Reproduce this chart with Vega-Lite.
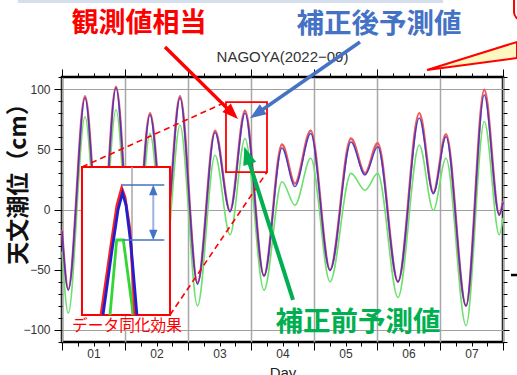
{
  "$schema": "https://vega.github.io/schema/vega-lite/v6.json",
  "width": 441,
  "height": 265,
  "autosize": {"type": "none"},
  "padding": {"left": 62, "top": 77, "right": 14, "bottom": 33},
  "background": "white",
  "config": {
    "view": {"stroke": "#000", "strokeWidth": 2.5},
    "axis": {"domain": false, "labelFont": "Liberation Sans", "titleFont": "Liberation Sans", "tickColor": "#000", "tickWidth": 1}
  },
  "datasets": {
    "tide": [
      {"day": 0, "obs": -17, "cor": -18, "pre": -35},
      {"day": 0.1, "obs": -66, "cor": -67, "pre": -86},
      {"day": 0.365, "obs": 94, "cor": 92.5, "pre": 77},
      {"day": 0.611, "obs": -44, "cor": -45, "pre": -62},
      {"day": 0.857, "obs": 102, "cor": 100.8, "pre": 82.8},
      {"day": 1.127, "obs": -67, "cor": -68, "pre": -86},
      {"day": 1.397, "obs": 80, "cor": 78.5, "pre": 63},
      {"day": 1.635, "obs": -24, "cor": -25, "pre": -42},
      {"day": 1.873, "obs": 94, "cor": 92.5, "pre": 70},
      {"day": 2.151, "obs": -61, "cor": -62, "pre": -80},
      {"day": 2.429, "obs": 65.5, "cor": 64, "pre": 45},
      {"day": 2.667, "obs": -1, "cor": -2, "pre": -21},
      {"day": 2.905, "obs": 82, "cor": 80, "pre": 59},
      {"day": 3.206, "obs": -55, "cor": -55, "pre": -67},
      {"day": 3.492, "obs": 54, "cor": 51, "pre": 23},
      {"day": 3.698, "obs": 21.5, "cor": 19, "pre": 3.6},
      {"day": 3.948, "obs": 65.5, "cor": 63, "pre": 42.5},
      {"day": 4.254, "obs": -50, "cor": -50.6, "pre": -60},
      {"day": 4.587, "obs": 59, "cor": 56, "pre": 30},
      {"day": 4.81, "obs": 30, "cor": 28.6, "pre": 16},
      {"day": 5.011, "obs": 55, "cor": 52, "pre": 30},
      {"day": 5.333, "obs": -60, "cor": -60, "pre": -73},
      {"day": 5.671, "obs": 80, "cor": 76, "pre": 53.6},
      {"day": 5.894, "obs": 14, "cor": 13, "pre": -0.6},
      {"day": 6.095, "obs": 62.5, "cor": 60.5, "pre": 42.5},
      {"day": 6.413, "obs": -80, "cor": -80, "pre": -96.4},
      {"day": 6.703, "obs": 99.4, "cor": 95, "pre": 73},
      {"day": 6.941, "obs": -4, "cor": -4.7, "pre": -21},
      {"day": 7, "obs": 7, "cor": 6, "pre": -7}
    ]
  },
  "resolve": {"axis": {"x": "independent", "y": "independent"}},
  "layer": [
    {
      "data": {"name": "tide"},
      "mark": {"type": "line", "interpolate": "monotone", "color": "#6ee06e", "strokeWidth": 1.6},
      "encoding": {
        "x": {"field": "day", "type": "quantitative", "scale": {"domain": [0, 7], "nice": false, "zero": false},
          "axis": {"orient": "bottom", "values": [0,0.25,0.5,0.75,1,1.25,1.5,1.75,2,2.25,2.5,2.75,3,3.25,3.5,3.75,4,4.25,4.5,4.75,5,5.25,5.5,5.75,6,6.25,6.5,6.75,7],
            "tickSize": {"condition": {"test": "datum.value % 1 === 0", "value": 8}, "value": 4},
            "grid": true, "gridColor": "#a8a8a8", "gridWidth": 1.5,
            "gridOpacity": {"condition": {"test": "datum.value % 1 === 0", "value": 1}, "value": 0},
            "labelExpr": "datum.value % 1 === 0.5 ? '0' + (floor(datum.value) + 1) : ''",
            "labelFontSize": 12, "labelColor": "#333", "labelPadding": 2, "labelFlush": false, "labelOverlap": false, "labelAngle": 0,
            "title": "Day", "titleFontSize": 15, "titleFontWeight": "normal", "titleColor": "#222", "titlePadding": 2}},
        "y": {"field": "pre", "type": "quantitative", "scale": {"domain": [-110, 110], "nice": false, "zero": false},
          "axis": {"orient": "left", "values": [-110,-100,-90,-80,-70,-60,-50,-40,-30,-20,-10,0,10,20,30,40,50,60,70,80,90,100,110],
            "format": "d",
            "tickSize": {"condition": {"test": "datum.value % 50 === 0", "value": 8}, "value": 4},
            "grid": true, "gridColor": "#a0a0a0", "gridWidth": 1.2,
            "gridOpacity": {"condition": {"test": "datum.value % 100 === 0", "value": 1}, "value": 0},
            "labelExpr": "datum.value % 50 === 0 ? datum.label : ''",
            "labelFontSize": 12, "labelColor": "#333", "labelPadding": 4, "labelOverlap": false, "labelFlush": false,
            "title": "天文潮位（cm）", "titleFont": "Noto Sans CJK JP", "titleFontSize": 23, "titleFontWeight": "bold", "titleColor": "#111",
            "titleX": -32, "titleY": 101}}
      }
    },
    {
      "data": {"name": "tide"},
      "mark": {"type": "line", "interpolate": "monotone", "color": "#f05a5a", "strokeWidth": 2.4},
      "encoding": {
        "x": {"field": "day", "type": "quantitative", "scale": {"domain": [0, 7], "nice": false, "zero": false},
          "axis": {"orient": "top", "values": [0,0.25,0.5,0.75,1,1.25,1.5,1.75,2,2.25,2.5,2.75,3,3.25,3.5,3.75,4,4.25,4.5,4.75,5,5.25,5.5,5.75,6,6.25,6.5,6.75,7],
            "tickSize": {"condition": {"test": "datum.value % 1 === 0", "value": 8}, "value": 4},
            "labels": false, "grid": false, "title": null}},
        "y": {"field": "obs", "type": "quantitative", "scale": {"domain": [-110, 110], "nice": false, "zero": false},
          "axis": {"orient": "right", "values": [-110,-100,-90,-80,-70,-60,-50,-40,-30,-20,-10,0,10,20,30,40,50,60,70,80,90,100,110],
            "tickSize": {"condition": {"test": "datum.value % 50 === 0", "value": 6}, "value": 4},
            "labels": false, "grid": false, "title": null}}
      }
    },
    {
      "data": {"name": "tide"},
      "mark": {"type": "line", "interpolate": "monotone", "color": "#3030d0", "strokeWidth": 1.5, "opacity": 0.85},
      "encoding": {
        "x": {"field": "day", "type": "quantitative", "scale": {"domain": [0, 7], "nice": false, "zero": false}, "axis": null},
        "y": {"field": "cor", "type": "quantitative", "scale": {"domain": [-110, 110], "nice": false, "zero": false}, "axis": null}
      }
    },
    {
      "data": {"values": [{"d": 3.5, "v": 126.6, "label": "NAGOYA(2022−09)"}]},
      "mark": {"type": "text", "font": "Liberation Sans", "fontSize": 15, "fontWeight": "normal", "color": "#333", "align": "center", "baseline": "middle"},
      "encoding": {"x": {"field": "d", "type": "quantitative", "axis": null}, "y": {"field": "v", "type": "quantitative", "axis": null}, "text": {"field": "label"}}
    },
    {
      "data": {"values": [{"x1": 0.317, "x2": 1.714, "v1": 35.3, "v2": -87.6}]},
      "mark": {"type": "rect", "fill": "white", "stroke": "#ff0000", "strokeWidth": 2},
      "encoding": {
        "x": {"field": "x1", "type": "quantitative", "axis": null}, "x2": {"field": "x2"},
        "y": {"field": "v1", "type": "quantitative", "axis": null}, "y2": {"field": "v2"}
      }
    },
    {
      "data": {"values": [{"x1": 1.111, "v1": 35.3, "v2": -87.6}]},
      "mark": {"type": "rule", "color": "#a8a8a8", "strokeWidth": 1.5},
      "encoding": {
        "x": {"field": "x1", "type": "quantitative", "axis": null},
        "y": {"field": "v1", "type": "quantitative", "axis": null}, "y2": {"field": "v2"}
      }
    },
    {
      "data": {"values": [{"d": 0.762, "v": -87.6}, {"d": 0.868, "v": -25.3}, {"d": 0.973, "v": -25.3}, {"d": 1.132, "v": -87.6}]},
      "mark": {"type": "line", "color": "#33d633", "strokeWidth": 2.8},
      "encoding": {"x": {"field": "d", "type": "quantitative", "axis": null}, "y": {"field": "v", "type": "quantitative", "axis": null}}
    },
    {
      "data": {"values": [{"d": 0.619, "v": -87.6}, {"d": 0.778, "v": -29.5}, {"d": 0.873, "v": 3.7}, {"d": 0.948, "v": 17.9}, {"d": 1.0, "v": 10.4}, {"d": 1.079, "v": -17.0}, {"d": 1.159, "v": -87.6}]},
      "mark": {"type": "line", "color": "#ff2020", "strokeWidth": 2.8},
      "encoding": {"x": {"field": "d", "type": "quantitative", "axis": null}, "y": {"field": "v", "type": "quantitative", "axis": null}}
    },
    {
      "data": {"values": [{"d": 0.651, "v": -87.6}, {"d": 0.794, "v": -33.6}, {"d": 0.889, "v": -0.4}, {"d": 0.96, "v": 13.7}, {"d": 1.016, "v": 3.7}, {"d": 1.095, "v": -29.5}, {"d": 1.19, "v": -87.6}]},
      "mark": {"type": "line", "color": "#1f1fd0", "strokeWidth": 2.8},
      "encoding": {"x": {"field": "d", "type": "quantitative", "axis": null}, "y": {"field": "v", "type": "quantitative", "axis": null}}
    },
    {
      "data": {"values": [{"x1": 0.948, "x2": 1.624, "v": 20.3}, {"x1": 0.973, "x2": 1.624, "v": -25.3}]},
      "mark": {"type": "rule", "color": "#4472c4", "strokeWidth": 1.5},
      "encoding": {
        "x": {"field": "x1", "type": "quantitative", "axis": null}, "x2": {"field": "x2"},
        "y": {"field": "v", "type": "quantitative", "axis": null}
      }
    },
    {
      "data": {"values": [{"x1": 1.449, "v1": 16.2, "v2": -21.2}]},
      "mark": {"type": "rule", "color": "#9ab3e0", "strokeWidth": 2},
      "encoding": {
        "x": {"field": "x1", "type": "quantitative", "axis": null},
        "y": {"field": "v1", "type": "quantitative", "axis": null}, "y2": {"field": "v2"}
      }
    },
    {
      "data": {"values": [{"d": 1.449, "v": 16.2}]},
      "mark": {"type": "point", "shape": "M0,-1L0.8,1L-0.8,1Z", "size": 110, "filled": true, "color": "#4472c4", "opacity": 1, "angle": 0},
      "encoding": {"x": {"field": "d", "type": "quantitative", "axis": null}, "y": {"field": "v", "type": "quantitative", "axis": null}}
    },
    {
      "data": {"values": [{"d": 1.449, "v": -21.2}]},
      "mark": {"type": "point", "shape": "M0,-1L0.8,1L-0.8,1Z", "size": 110, "filled": true, "color": "#4472c4", "opacity": 1, "angle": 180},
      "encoding": {"x": {"field": "d", "type": "quantitative", "axis": null}, "y": {"field": "v", "type": "quantitative", "axis": null}}
    },
    {
      "data": {"values": [{"x1": 2.603, "x2": 3.254, "v1": 89.2, "v2": 31.1}]},
      "mark": {"type": "rect", "fill": null, "fillOpacity": 0, "stroke": "#ff0000", "strokeWidth": 1.8},
      "encoding": {
        "x": {"field": "x1", "type": "quantitative", "axis": null}, "x2": {"field": "x2"},
        "y": {"field": "v1", "type": "quantitative", "axis": null}, "y2": {"field": "v2"}
      }
    },
    {
      "data": {"values": [{"x1": 0.317, "v1": 35.3, "x2": 2.603, "v2": 89.2}, {"x1": 1.714, "v1": -87.6, "x2": 3.254, "v2": 31.1}]},
      "mark": {"type": "rule", "color": "#ff0000", "strokeWidth": 1.6, "strokeDash": [6, 4]},
      "encoding": {
        "x": {"field": "x1", "type": "quantitative", "axis": null}, "x2": {"field": "x2"},
        "y": {"field": "v1", "type": "quantitative", "axis": null}, "y2": {"field": "v2"}
      }
    },
    {
      "data": {"values": [{"x1": 1.635, "v1": 134.9, "x2": 2.703, "v2": 79.8}]},
      "mark": {"type": "rule", "color": "#ff0000", "strokeWidth": 3.5},
      "encoding": {
        "x": {"field": "x1", "type": "quantitative", "axis": null}, "x2": {"field": "x2"},
        "y": {"field": "v1", "type": "quantitative", "axis": null}, "y2": {"field": "v2"}
      }
    },
    {
      "data": {"values": [{"d": 2.703, "v": 79.8}]},
      "mark": {"type": "point", "shape": "M0,-1L0.75,1L-0.75,1Z", "size": 256, "filled": true, "color": "#ff0000", "opacity": 1, "angle": 134.6},
      "encoding": {"x": {"field": "d", "type": "quantitative", "axis": null}, "y": {"field": "v", "type": "quantitative", "axis": null}}
    },
    {
      "data": {"values": [{"x1": 4.73, "v1": 139.1, "x2": 3.089, "v2": 79.5}]},
      "mark": {"type": "rule", "color": "#4472c4", "strokeWidth": 3.5},
      "encoding": {
        "x": {"field": "x1", "type": "quantitative", "axis": null}, "x2": {"field": "x2"},
        "y": {"field": "v1", "type": "quantitative", "axis": null}, "y2": {"field": "v2"}
      }
    },
    {
      "data": {"values": [{"d": 3.089, "v": 79.5}]},
      "mark": {"type": "point", "shape": "M0,-1L0.75,1L-0.75,1Z", "size": 256, "filled": true, "color": "#4472c4", "opacity": 1, "angle": 235.4},
      "encoding": {"x": {"field": "d", "type": "quantitative", "axis": null}, "y": {"field": "v", "type": "quantitative", "axis": null}}
    },
    {
      "data": {"values": [{"x1": 3.667, "v1": -75.1, "x2": 2.937, "v2": 45.0}]},
      "mark": {"type": "rule", "color": "#00b050", "strokeWidth": 4},
      "encoding": {
        "x": {"field": "x1", "type": "quantitative", "axis": null}, "x2": {"field": "x2"},
        "y": {"field": "v1", "type": "quantitative", "axis": null}, "y2": {"field": "v2"}
      }
    },
    {
      "data": {"values": [{"d": 2.937, "v": 45.0}]},
      "mark": {"type": "point", "shape": "M0,-1L0.75,1L-0.75,1Z", "size": 324, "filled": true, "color": "#00b050", "opacity": 1, "angle": 342.5},
      "encoding": {"x": {"field": "d", "type": "quantitative", "axis": null}, "y": {"field": "v", "type": "quantitative", "axis": null}}
    },
    {
      "data": {"values": [{"x1": -0.698, "x2": 6.048, "v1": 173.9, "v2": 171.4}]},
      "mark": {"type": "rect", "fill": "#d5deec"},
      "encoding": {
        "x": {"field": "x1", "type": "quantitative", "axis": null}, "x2": {"field": "x2"},
        "y": {"field": "v1", "type": "quantitative", "axis": null}, "y2": {"field": "v2"}
      }
    },
    {
      "data": {"values": [{"d": 5.794, "hi": 115.8, "lo": 115.8}, {"d": 7.222, "hi": 139.1, "lo": 125.8}]},
      "mark": {"type": "area", "fill": "#fff7c2", "stroke": "#ff0000", "strokeWidth": 2},
      "encoding": {
        "x": {"field": "d", "type": "quantitative", "axis": null},
        "y": {"field": "hi", "type": "quantitative", "axis": null}, "y2": {"field": "lo"}
      }
    },
    {
      "data": {"values": [{"x1": 7.175, "x2": 7.6, "v1": 182.2, "v2": 157.3}]},
      "mark": {"type": "rect", "fill": "white", "stroke": "#ff0000", "strokeWidth": 2, "cornerRadius": 8},
      "encoding": {
        "x": {"field": "x1", "type": "quantitative", "axis": null}, "x2": {"field": "x2"},
        "y": {"field": "v1", "type": "quantitative", "axis": null}, "y2": {"field": "v2"}
      }
    },
    {
      "data": {"values": [{"x1": 7.127, "x2": 7.222, "v": -54.4}]},
      "mark": {"type": "rule", "color": "#000", "strokeWidth": 2.5},
      "encoding": {
        "x": {"field": "x1", "type": "quantitative", "axis": null}, "x2": {"field": "x2"},
        "y": {"field": "v", "type": "quantitative", "axis": null}
      }
    },
    {
      "data": {"values": [{"d": 1.222, "v": 154.0, "label": "観測値相当"}]},
      "mark": {"type": "text", "font": "Noto Sans CJK JP", "fontSize": 27, "fontWeight": "bold", "color": "#ff0000", "align": "center", "baseline": "middle"},
      "encoding": {"x": {"field": "d", "type": "quantitative", "axis": null}, "y": {"field": "v", "type": "quantitative", "axis": null}, "text": {"field": "label"}}
    },
    {
      "data": {"values": [{"d": 5.032, "v": 153.2, "label": "補正後予測値"}]},
      "mark": {"type": "text", "font": "Noto Sans CJK JP", "fontSize": 27.5, "fontWeight": "bold", "color": "#4472c4", "align": "center", "baseline": "middle"},
      "encoding": {"x": {"field": "d", "type": "quantitative", "axis": null}, "y": {"field": "v", "type": "quantitative", "axis": null}, "text": {"field": "label"}}
    },
    {
      "data": {"values": [{"d": 4.698, "v": -94.2, "label": "補正前予測値"}]},
      "mark": {"type": "text", "font": "Noto Sans CJK JP", "fontSize": 27.5, "fontWeight": "bold", "color": "#00b050", "align": "center", "baseline": "middle"},
      "encoding": {"x": {"field": "d", "type": "quantitative", "axis": null}, "y": {"field": "v", "type": "quantitative", "axis": null}, "text": {"field": "label"}}
    },
    {
      "data": {"values": [{"d": 1.032, "v": -97.1, "label": "データ同化効果"}]},
      "mark": {"type": "text", "font": "Noto Sans CJK JP", "fontSize": 15.7, "fontWeight": "normal", "color": "#ff0000", "align": "center", "baseline": "middle"},
      "encoding": {"x": {"field": "d", "type": "quantitative", "axis": null}, "y": {"field": "v", "type": "quantitative", "axis": null}, "text": {"field": "label"}}
    }
  ]
}
